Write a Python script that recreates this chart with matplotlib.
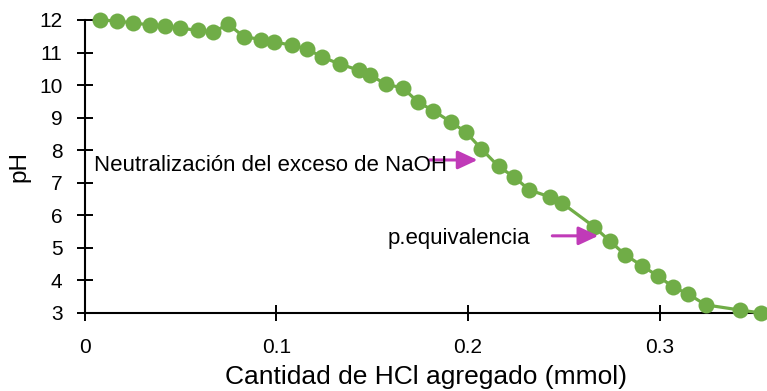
import matplotlib
matplotlib.use("Agg")
import matplotlib.pyplot as plt

plt.rcParams['font.family'] = ['Liberation Sans', 'DejaVu Sans']

# Titration data: HCl added (mmol) vs pH
hcl_mmol = [0.008, 0.017, 0.025, 0.034, 0.042, 0.050, 0.059, 0.067, 0.075, 0.083,
            0.092, 0.099, 0.108, 0.116, 0.124, 0.133, 0.143, 0.149, 0.157, 0.166,
            0.174, 0.182, 0.191, 0.199, 0.207, 0.216, 0.224, 0.232, 0.243, 0.249,
            0.266, 0.274, 0.282, 0.291, 0.299, 0.307, 0.315, 0.324, 0.342, 0.353]
ph = [12.00, 11.97, 11.91, 11.85, 11.82, 11.74, 11.69, 11.63, 11.87, 11.49,
      11.40, 11.32, 11.23, 11.11, 10.86, 10.65, 10.46, 10.31, 10.03, 9.91,
      9.48, 9.21, 8.87, 8.55, 8.04, 7.50, 7.18, 6.78, 6.56, 6.38,
      5.64, 5.21, 4.79, 4.44, 4.14, 3.80, 3.58, 3.25, 3.09, 3.00]

x_ticks = [0, 0.1, 0.2, 0.3]
x_tick_labels = ['0', '0.1', '0.2', '0.3']
y_ticks = list(range(3, 13))

green = '#70AD47'
magenta = '#C03BB8'

fig = plt.figure(figsize=(7.67, 3.91), dpi=100)
ax = fig.add_axes([0.1103, 0.1995, 0.8897, 0.7494])

ax.plot(hcl_mmol, ph, color=green, lw=2.3, marker='o', ms=11.5,
        markeredgewidth=0, clip_on=False, zorder=3)

ax.set_xlim(0, 0.356)
ax.set_ylim(3, 12)
ax.set_xticks(x_ticks)
ax.set_xticklabels(x_tick_labels)
ax.set_yticks(y_ticks)

for side in ['top', 'right']:
    ax.spines[side].set_visible(False)
for side in ['left', 'bottom']:
    ax.spines[side].set_linewidth(1.5)
    ax.spines[side].set_color('black')

ax.tick_params(axis='both', direction='inout', length=12, width=1.4,
               labelsize=15, colors='black')
ax.tick_params(axis='x', pad=12)
ax.tick_params(axis='y', pad=10)

ax.set_xlabel('Cantidad de HCl agregado (mmol)', fontsize=19, labelpad=6)
ax.set_ylabel('pH', fontsize=17.5, labelpad=6)

# Arrows marking the neutralization zone and the equivalence point
arrow_style = dict(arrowstyle='-|>,head_length=0.6,head_width=0.28',
                   color=magenta, lw=2.2, mutation_scale=20,
                   shrinkA=0, shrinkB=0)
ax.annotate('', xy=(0.205, 7.70), xytext=(0.180, 7.70), arrowprops=arrow_style)
ax.text(0.005, 7.52, 'Neutralización del exceso de NaOH', fontsize=16,
        ha='left', va='center')

ax.annotate('', xy=(0.268, 5.37), xytext=(0.244, 5.37), arrowprops=arrow_style)
ax.text(0.158, 5.30, 'p.equivalencia', fontsize=16, ha='left', va='center')

fig.savefig('out.png', dpi=100)
